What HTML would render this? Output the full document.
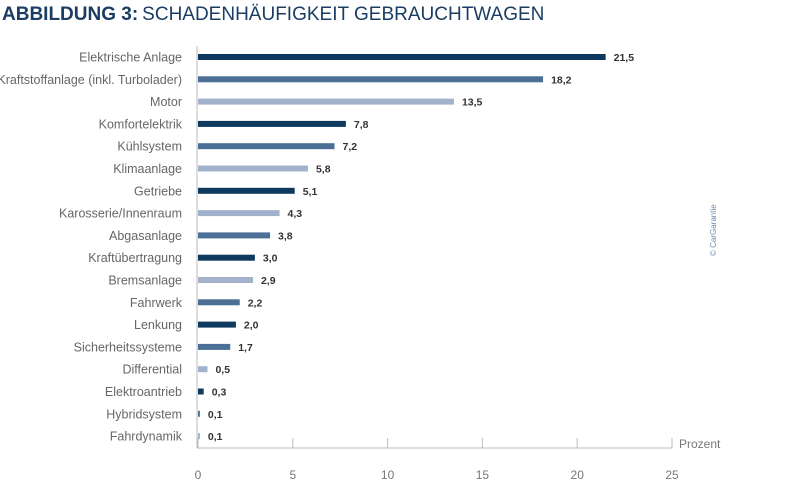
<!DOCTYPE html>
<html><head><meta charset="utf-8"><style>
html,body{margin:0;padding:0;background:#fff;}
svg{display:block;font-family:"Liberation Sans",sans-serif;}
</style></head><body>
<svg id="chart" width="800" height="482" viewBox="0 0 800 482">
<text x="2" y="20" font-size="19" fill="#1b3d63"><tspan font-weight="bold">ABBILDUNG 3:</tspan><tspan font-weight="normal" dx="4">SCHADENHÄUFIGKEIT GEBRAUCHTWAGEN</tspan></text>
<text transform="translate(716,256) rotate(-90)" font-size="8" fill="#6d8cb0">© CarGarantie</text>
<g id="plot"></g>
</svg>
<script>
const categories=["Elektrische Anlage","Kraftstoffanlage (inkl. Turbolader)","Motor","Komfortelektrik","Kühlsystem","Klimaanlage","Getriebe","Karosserie/Innenraum","Abgasanlage","Kraftübertragung","Bremsanlage","Fahrwerk","Lenkung","Sicherheitssysteme","Differential","Elektroantrieb","Hybridsystem","Fahrdynamik"];
const values=[21.5,18.2,13.5,7.8,7.2,5.8,5.1,4.3,3.8,3.0,2.9,2.2,2.0,1.7,0.5,0.3,0.1,0.1];
const shades=["d","m","l","d","m","l","d","l","m","d","l","m","d","m","l","d","m","l"];
const tickValues=[0,5,10,15,20,25];
const palette={d:"#0f3a60",m:"#4b6f95",l:"#a3b2cc"};
const x0=198,x1=672,xmax=25,yTop=57,step=22.3,axisY=448;
const xs=v=>x0+(x1-x0)*v/xmax;
const ys=i=>yTop+i*step;
const g=document.getElementById('plot');
const NS="http://www.w3.org/2000/svg";
function mk(tag,attrs){const e=document.createElementNS(NS,tag);for(const k in attrs)e.setAttribute(k,attrs[k]);g.appendChild(e);return e;}
let yAxis=mk('line',{x1:x0-1,y1:46,x2:x0-1,y2:axisY,stroke:'#bbb','stroke-width':1});


let xAxis=mk('line',{x1:x0-1,y1:axisY,x2:x1,y2:axisY,stroke:'#bbb','stroke-width':1});


tickValues.forEach(t=>{
  const tk=mk('line',{x1:xs(t),y1:438,x2:xs(t),y2:axisY,stroke:'#bbb','stroke-width':1});
  
  
  const tl=mk('text',{x:xs(t),y:479,'text-anchor':'middle','font-size':12,fill:'#777'});
  tl.textContent=t;
  
  
});
const unit=mk('text',{x:679,y:448,'font-size':12,fill:'#777'});
unit.textContent='Prozent';


categories.forEach((c,i)=>{
  const y=ys(i);
  const lab=mk('text',{x:182,y:y+4.5,'text-anchor':'end','font-size':12.5,fill:'#666'});
  lab.textContent=c;
  
  
  const w=Math.max(xs(values[i])-x0,1.5);
  const b=mk('rect',{x:x0,y:y-3,width:w,height:6,fill:palette[shades[i]]});
  
  
  const v=mk('text',{x:x0+w+8,y:y+4,'font-size':10.5,'font-weight':'bold',fill:'#333'});
  v.textContent=values[i].toFixed(1).replace('.',',');
  
  
});
</script>
</body></html>
